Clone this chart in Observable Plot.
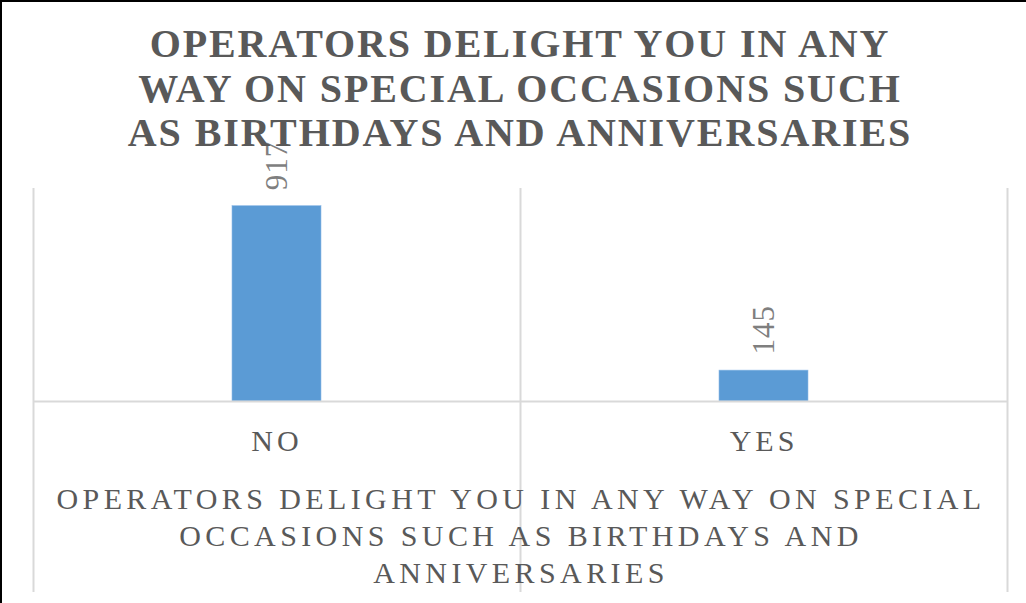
<!DOCTYPE html>
<html>
<head>
<meta charset="utf-8">
<script src="https://cdn.jsdelivr.net/npm/d3@7"></script>
<script src="https://cdn.jsdelivr.net/npm/@observablehq/plot@0.6"></script>
<style>
  html, body { margin: 0; padding: 0; background: #fff; }
  #wrap { position: relative; width: 1026px; height: 603px; overflow: hidden; background: #fff; }
  #wrap svg { position: absolute; left: 0; top: 0; }
  .border-top { position: absolute; left: 0; top: 0; width: 1026px; height: 2px; background: #000; }
  .border-left { position: absolute; left: 0; top: 0; width: 2px; height: 603px; background: #000; }
  #title { position: absolute; left: 19px; top: 22px; width: 1002px; text-align: center;
           font-family: "Liberation Serif", "Times New Roman", serif; font-weight: bold;
           font-size: 40px; line-height: 44.5px; letter-spacing: 1.9px; color: #595959; }
  #xtitle { position: absolute; left: 19px; top: 480px; width: 1004px; text-align: center;
            font-family: "Liberation Serif", "Times New Roman", serif;
            font-size: 30px; line-height: 37px; letter-spacing: 4.4px; color: #595959; }
  .xlab text { letter-spacing: 4px; }
  .vlab text { letter-spacing: 1px; }
</style>
</head>
<body>
<div id="wrap"></div>
<script>
// ---- data ----
const categories = ["NO", "YES"];
const counts = [917, 145];
const titleLines = ["OPERATORS DELIGHT YOU IN ANY", "WAY ON SPECIAL OCCASIONS SUCH", "AS BIRTHDAYS AND ANNIVERSARIES"];
const axisTitleLines = ["OPERATORS DELIGHT YOU IN ANY WAY ON SPECIAL", "OCCASIONS SUCH AS BIRTHDAYS AND", "ANNIVERSARIES"];

const rows = categories.map((c, i) => ({category: c, count: counts[i]}));

const W = 1026, H = 603;
const mL = 33, mR = 19, mT = 188, mB = 202;
const step = (W - mL - mR) / 2;
const grid = "#d9d9d9";

const chart = Plot.plot({
  width: W,
  height: H,
  marginLeft: mL,
  marginRight: mR,
  marginTop: mT,
  marginBottom: mB,
  style: {fontFamily: "'Liberation Serif', 'Times New Roman', serif", background: "transparent"},
  x: {domain: categories, paddingInner: 0.817, paddingOuter: 0.4085, axis: null},
  y: {domain: [0, 1000], axis: null},
  marks: [
    // category separators (extend down through the labels)
    Plot.ruleX(categories, {x: d => d, dx: -step / 2, stroke: grid, strokeWidth: 2, insetBottom: -(mB - 11)}),
    Plot.ruleX(categories.slice(-1), {x: d => d, dx: step / 2, stroke: grid, strokeWidth: 2, insetBottom: -(mB - 11)}),
    Plot.barY(rows, {x: "category", y: "count", fill: "#5b9bd5", stroke: "#8fbbe6", strokeWidth: 0.6}),
    Plot.ruleY([0], {stroke: grid, strokeWidth: 2}),
    Plot.text(rows, {x: "category", y: "count", text: d => String(d.count), rotate: -90,
      textAnchor: "start", lineAnchor: "middle", dy: -16, fontSize: 31, fill: "#7f7f7f",
      className: "vlab"}),
    Plot.text(categories, {x: d => d, frameAnchor: "bottom", text: d => d, dy: 40,
      lineAnchor: "middle", fontSize: 30, fill: "#595959", className: "xlab"})
  ]
});

const wrap = document.getElementById("wrap");
wrap.appendChild(chart);

const t = document.createElement("div");
t.id = "title";
t.innerHTML = titleLines.join("<br>");
wrap.appendChild(t);

const xt = document.createElement("div");
xt.id = "xtitle";
xt.innerHTML = axisTitleLines.join("<br>");
wrap.appendChild(xt);

const b1 = document.createElement("div"); b1.className = "border-top"; wrap.appendChild(b1);
const b2 = document.createElement("div"); b2.className = "border-left"; wrap.appendChild(b2);
</script>
</body>
</html>
